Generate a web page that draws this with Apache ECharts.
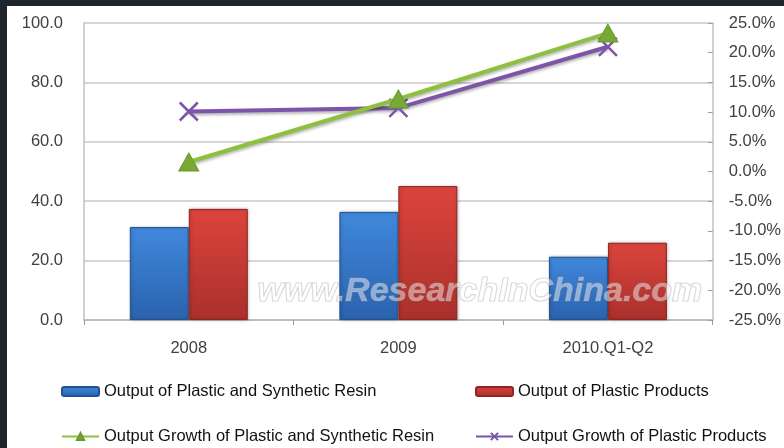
<!DOCTYPE html>
<html>
<head>
<meta charset="utf-8">
<script src="https://cdn.jsdelivr.net/npm/echarts@6/dist/echarts.min.js"></script>
<style>
html,body{margin:0;padding:0;background:#1e252d;}
#chart{width:784px;height:448px;}
</style>
</head>
<body>
<div id="chart"></div>
<script>
const categories = ['2008', '2009', '2010.Q1-Q2'];
const resinOutput = [31.3, 36.4, 21.3];
const productsOutput = [37.4, 45.1, 26.0];
const resinGrowth = [1.6, 12.2, 23.3];
const productsGrowth = [10.1, 10.7, 21.0];
const seriesNames = [
  'Output of Plastic and Synthetic Resin',
  'Output of Plastic Products',
  'Output Growth of Plastic and Synthetic Resin',
  'Output Growth of Plastic Products'
];
const watermark = 'www.ResearchInChina.com';

const FONT = '"Liberation Sans", Arial, sans-serif';
const chart = echarts.init(document.getElementById('chart'));

function vgrad(top, bottom) {
  return new echarts.graphic.LinearGradient(0, 0, 0, 1, [
    { offset: 0, color: top }, { offset: 1, color: bottom }
  ]);
}
const blueFill = vgrad('#4088dc', '#2b62ae');
const redFill = vgrad('#dc443c', '#aa302c');
const xPath = 'path://M0,0L10,10M10,0L0,10';

function legendItem(name, left, top) {
  return {
    data: [name], left: left, top: top, orient: 'horizontal',
    itemWidth: 37, itemHeight: 9, itemGap: 6,
    textStyle: { fontFamily: FONT, fontSize: 16.5, color: '#111' },
    selectedMode: false
  };
}

chart.setOption({
  backgroundColor: '#ffffff',
  animation: false,
  graphic: [
    { type: 'rect', shape: { x: 0, y: 0, width: 784, height: 6 }, style: { fill: '#1e252d' }, z: 100 },
    { type: 'rect', shape: { x: 0, y: 0, width: 7, height: 448 }, style: { fill: '#1e252d' }, z: 100 },
    {
      type: 'text', left: 257, top: 274, z: 50, silent: true,
      style: {
        text: watermark, fontFamily: FONT, fontSize: 34, fontWeight: 'bold', fontStyle: 'italic',
        fill: 'rgba(255,255,255,0.45)', stroke: 'rgba(150,150,150,0.45)', lineWidth: 1.2
      }
    }
  ],
  grid: { left: 84, right: 71, top: 23, bottom: 128, containLabel: false },
  legend: [
    legendItem(seriesNames[0], 56, 378),
    legendItem(seriesNames[1], 470, 378),
    legendItem(seriesNames[2], 56, 423),
    legendItem(seriesNames[3], 470, 423)
  ],
  xAxis: {
    type: 'category', data: categories,
    axisLine: { lineStyle: { color: '#b5b5b5', width: 1.5 } },
    axisTick: { show: true, length: 5, lineStyle: { color: '#9a9a9a' } },
    axisLabel: { fontFamily: FONT, fontSize: 16.5, color: '#404040', margin: 20 }
  },
  yAxis: [
    {
      type: 'value', min: 0, max: 100, interval: 20,
      axisLine: { show: true, lineStyle: { color: '#c0c0c0', width: 1.5 } },
      axisTick: { show: false },
      splitLine: { lineStyle: { color: '#c8c8c8', width: 1.5 } },
      axisLabel: { fontFamily: FONT, fontSize: 16.5, color: '#404040', margin: 21,
        formatter: v => v.toFixed(1) }
    },
    {
      type: 'value', min: -25, max: 25, interval: 5, position: 'right',
      axisLine: { show: true, lineStyle: { color: '#c0c0c0', width: 1.5 } },
      axisTick: { show: true, inside: true, length: 5, lineStyle: { color: '#a0a0a0' } },
      splitLine: { show: false },
      axisLabel: { fontFamily: FONT, fontSize: 16.5, color: '#404040', margin: 16,
        formatter: v => v.toFixed(1) + '%' }
    }
  ],
  series: [
    {
      name: seriesNames[0], type: 'bar', data: resinOutput, barWidth: 59, barGap: '0%',
      itemStyle: { color: blueFill, borderColor: '#24528f', borderWidth: 1,
        shadowColor: 'rgba(0,0,0,0.25)', shadowBlur: 3, shadowOffsetX: 1 }
    },
    {
      name: seriesNames[1], type: 'bar', data: productsOutput, barWidth: 59, barGap: '0%',
      itemStyle: { color: redFill, borderColor: '#8c2622', borderWidth: 1,
        shadowColor: 'rgba(0,0,0,0.25)', shadowBlur: 3, shadowOffsetX: 1 }
    },
    {
      name: seriesNames[2], type: 'line', yAxisIndex: 1, data: resinGrowth,
      symbol: 'triangle', symbolSize: [20, 18],
      lineStyle: { color: '#8dc03f', width: 4, shadowColor: 'rgba(0,0,0,0.3)', shadowBlur: 3, shadowOffsetY: 2 },
      itemStyle: { color: '#78a835', borderColor: '#6a9a2e', borderWidth: 1 },
      z: 5
    },
    {
      name: seriesNames[3], type: 'line', yAxisIndex: 1, data: productsGrowth,
      symbol: xPath, symbolSize: 18,
      lineStyle: { color: '#7d55a8', width: 4, shadowColor: 'rgba(0,0,0,0.3)', shadowBlur: 3, shadowOffsetY: 2 },
      itemStyle: { color: '#7d55a8', borderColor: '#7d55a8', borderWidth: 2.5 },
      z: 4
    }
  ]
});
</script>
</body>
</html>
